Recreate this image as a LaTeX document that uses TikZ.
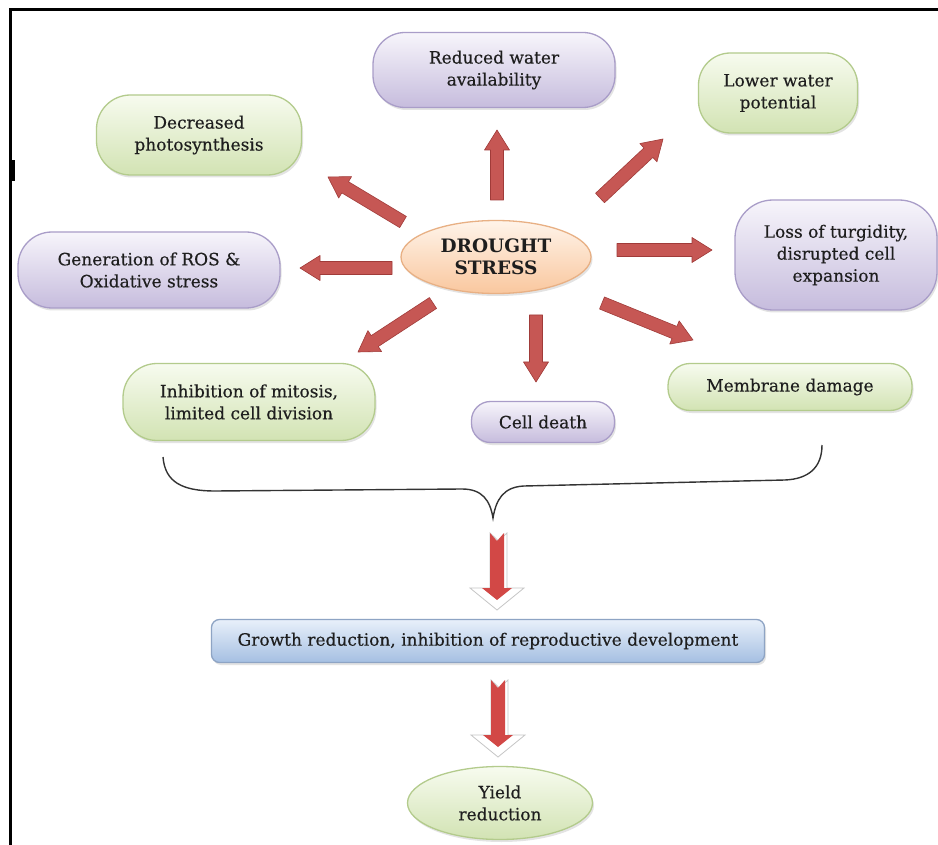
\documentclass[tikz,border=0pt]{standalone}
\usepackage{fontspec}
\setmainfont{DejaVu Serif}
\newfontfamily\heavyserif{DejaVu Serif}[FakeBold=0.35]
\usetikzlibrary{calc,shadows,shapes.geometric}
\definecolor{pTop}{HTML}{F7F5FB}
\definecolor{pBot}{HTML}{C6BCDD}
\definecolor{pLine}{HTML}{A99DC8}
\definecolor{gTop}{HTML}{F7FBEF}
\definecolor{gBot}{HTML}{D2E3B3}
\definecolor{gLine}{HTML}{B3CB8C}
\definecolor{oTop}{HTML}{FFF4EA}
\definecolor{oBot}{HTML}{F9C79E}
\definecolor{oLine}{HTML}{E8B084}
\definecolor{bTop}{HTML}{E8F0FA}
\definecolor{bBot}{HTML}{A5BFE2}
\definecolor{bLine}{HTML}{8EA4C4}
\definecolor{aRed}{HTML}{C65754}
\definecolor{aDark}{HTML}{A03B39}
\definecolor{bRed}{HTML}{D24846}
\definecolor{txt}{HTML}{1E1E1E}
\newcommand\blockarrow[2]{%
  \coordinate (hb) at ($(#2)!20pt!(#1)$);
  \filldraw[arrowbody]
    ($(#1)!6.5pt!90:(#2)$) -- ($(hb)!6.5pt!-90:(#1)$) -- ($(hb)!12.5pt!-90:(#1)$) -- (#2)
    -- ($(hb)!12.5pt!90:(#1)$) -- ($(hb)!6.5pt!90:(#1)$) -- ($(#1)!6.5pt!-90:(#2)$) -- cycle;
}
\newcommand\fatdown[1]{% #1 = tip coordinate
  \filldraw[fill=white, draw=gray!45, line width=0.8pt]
    (#1) -- ($(#1)+(27,-22)$) -- ($(#1)+(10,-22)$) -- ($(#1)+(10,-77)$) -- ($(#1)+(1.5,-69)$)
    -- ($(#1)+(-7,-77)$) -- ($(#1)+(-7,-22)$) -- ($(#1)+(-27,-22)$) -- cycle;
  \fill[bRed]
    ($(#1)+(0,-10)$) -- ($(#1)+(15,-22)$) -- ($(#1)+(7,-22)$) -- ($(#1)+(7,-77)$) -- ($(#1)+(0,-69)$)
    -- ($(#1)+(-7,-77)$) -- ($(#1)+(-7,-22)$) -- ($(#1)+(-15,-22)$) -- cycle;
}
\begin{document}
\begin{tikzpicture}[x=1pt,y=-1pt,
  every node/.style={font=\heavyserif\fontsize{17}{22}\selectfont, text=txt, align=center},
  sh/.style={drop shadow={shadow xshift=1.5pt, shadow yshift=-2.5pt, opacity=0.22}},
  bx/.style={rectangle, rounded corners=#1, line width=1.3pt, inner sep=0pt, sh},
  pbox/.style={bx=#1, draw=pLine, top color=pTop, bottom color=pBot},
  gbox/.style={bx=#1, draw=gLine, top color=gTop, bottom color=gBot},
  arrowbody/.style={fill=aRed, draw=aDark, line width=0.6pt, line join=round},
  bracestyle/.style={draw=black!80, line width=1.4pt}
]
\fill[white] (0,0) rectangle (938,845);
\useasboundingbox (0,0) rectangle (938,845);
% frame
\draw[line width=3pt] (10.5,845) -- (10.5,10) -- (938,10);
\fill (9,160) rectangle (15,181);

% nodes
\node[ellipse, minimum width=190pt, minimum height=73pt, inner sep=0pt, line width=1.3pt, draw=oLine, top color=oTop, bottom color=oBot, sh, font=\normalfont\fontsize{18.5}{22}\selectfont\bfseries] (ds) at (496,257) {DROUGHT\\STRESS};
\node[pbox=32pt, minimum width=242pt, minimum height=75pt] (rw) at (494,70) {Reduced water\\availability};
\node[gbox=32pt, minimum width=159pt, minimum height=80pt] (lw) at (778,93) {Lower water\\potential};
\node[gbox=34pt, minimum width=205pt, minimum height=80pt] (dp) at (199,135) {Decreased\\photosynthesis};
\node[pbox=34pt, minimum width=262pt, minimum height=76pt] (ros) at (149,270) {Generation of ROS \&\\Oxidative stress};
\node[pbox=38pt, minimum width=202pt, minimum height=110pt] (lt) at (836,255) {Loss of turgidity,\\disrupted cell\\expansion};
\node[gbox=34pt, minimum width=252pt, minimum height=77pt] (im) at (249,402) {Inhibition of mitosis,\\limited cell division};
\node[pbox=19pt, minimum width=143pt, minimum height=41pt] (cd) at (543,422) {Cell death};
\node[gbox=22pt, minimum width=244pt, minimum height=47pt] (md) at (790,387) {Membrane damage};
\node[bx=8pt, draw=bLine, top color=bTop, bottom color=bBot, minimum width=553pt, minimum height=43pt] (gr) at (488,641) {Growth reduction, inhibition of reproductive development};
\node[ellipse, minimum width=185pt, minimum height=73pt, inner sep=0pt, line width=1.3pt, draw=gLine, top color=gTop, bottom color=gBot, sh] (yr) at (500,803) {Yield\\reduction};

% arrow end points
\coordinate (t1) at (497,200); \coordinate (p1) at (497,130);
\coordinate (t2) at (600,198); \coordinate (p2) at (663,139);
\coordinate (t3) at (617,250); \coordinate (p3) at (712,250);
\coordinate (t4) at (602,303); \coordinate (p4) at (693,340);
\coordinate (t5) at (536,315); \coordinate (p5) at (536,382);
\coordinate (t6) at (433,303); \coordinate (p6) at (358,352);
\coordinate (t7) at (392,268); \coordinate (p7) at (300,268);
\coordinate (t8) at (403,222); \coordinate (p8) at (328,177);
\blockarrow{t1}{p1}
\blockarrow{t2}{p2}
\blockarrow{t3}{p3}
\blockarrow{t4}{p4}
\blockarrow{t5}{p5}
\blockarrow{t6}{p6}
\blockarrow{t7}{p7}
\blockarrow{t8}{p8}

% brace
\coordinate (bl) at (163,457);
\coordinate (bc) at (493,518);
\coordinate (br) at (822,445);
\draw[bracestyle] (bl) .. controls (165,482) and (182,491) .. (215,491)
  -- (462,489) .. controls (482,489) and (490,500) .. (bc)
  .. controls (496,500) and (503,487) .. (524,486)
  -- (785,480) .. controls (808,479) and (822,468) .. (br);

% bottom arrows
\coordinate (q1) at (497,610);
\coordinate (q2) at (498,757);
\fatdown{q1}
\fatdown{q2}
\end{tikzpicture}
\end{document}
